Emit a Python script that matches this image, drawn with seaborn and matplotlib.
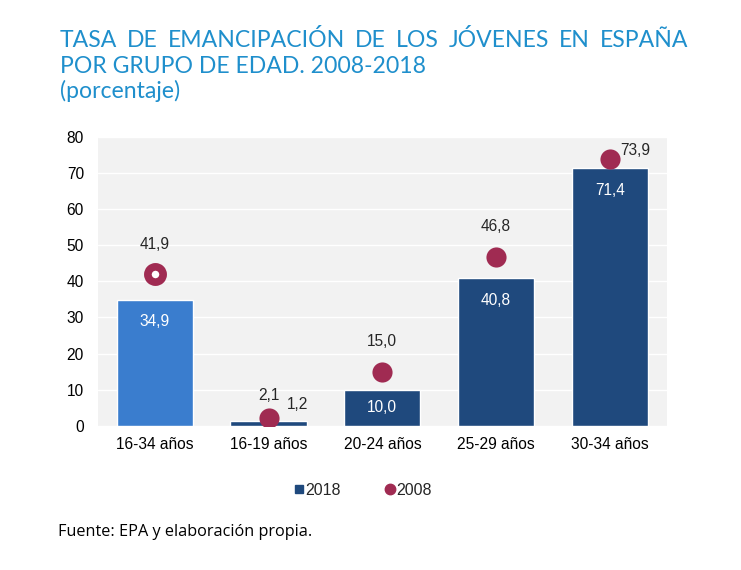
import matplotlib
matplotlib.use("Agg")
import matplotlib.pyplot as plt
from matplotlib.lines import Line2D
import seaborn as sns
import pandas as pd

categorias = ["16-34 años", "16-19 años", "20-24 años", "25-29 años", "30-34 años"]
tasa_2018 = [34.9, 1.2, 10.0, 40.8, 71.4]
tasa_2008 = [41.9, 2.1, 15.0, 46.8, 73.9]
yticks = [0, 10, 20, 30, 40, 50, 60, 70, 80]

titulo = ["TASA DE EMANCIPACIÓN DE LOS JÓVENES EN ESPAÑA",
          "POR GRUPO DE EDAD. 2008-2018",
          "(porcentaje)"]
fuente = "Fuente: EPA y elaboración propia."

azul_claro = "#3a7dce"
azul = "#1f497d"
granate = "#a02b52"
azul_titulo = "#1f8fcc"

df = pd.DataFrame({"grupo": categorias, "y2018": tasa_2018, "y2008": tasa_2008})

sns.set_theme(style="white")
plt.rcParams["font.family"] = ["Liberation Sans", "DejaVu Sans"]

fig = plt.figure(figsize=(7.41, 5.70), dpi=100)
ax = fig.add_axes([0.132, 0.253, 0.768, 0.507])
ax.set_facecolor("#f2f2f2")

colores = [azul_claro] + [azul] * (len(categorias) - 1)
sns.barplot(data=df, x="grupo", y="y2018", hue="grupo", palette=colores,
            legend=False, width=0.67, saturation=1, ax=ax, zorder=2)

# puntos 2008, el primero como anillo
sns.stripplot(data=df.iloc[1:], x="grupo", y="y2008", order=categorias,
              jitter=False, color=granate, size=14.5, linewidth=0,
              ax=ax, zorder=3)
sns.stripplot(data=df.iloc[:1], x="grupo", y="y2008", order=categorias,
              jitter=False, color="white", size=11, linewidth=5.5,
              edgecolor=granate, ax=ax, zorder=3)

ax.set_ylim(0, 80)
ax.set_xlim(-0.5, len(categorias) - 0.5)
ax.set_yticks(yticks)
ax.yaxis.grid(True, color="white", linewidth=1)
ax.set_axisbelow(True)
for s in ax.spines.values():
    s.set_visible(False)
ax.set_xlabel("")
ax.set_ylabel("")
ax.tick_params(axis="both", labelsize=11.2, length=0, colors="black")
ax.tick_params(axis="x", pad=8)
ax.tick_params(axis="y", pad=10)

fs = 11.2
for i, (v18, v08) in enumerate(zip(tasa_2018, tasa_2008)):
    t18 = f"{v18:.1f}".replace(".", ",")
    t08 = f"{v08:.1f}".replace(".", ",")
    if v18 < 5:
        ax.annotate(t18, (i, v18), xytext=(21, 12.5), textcoords="offset points",
                    ha="center", va="center", fontsize=fs)
    elif v18 < 15:
        ax.annotate(t18, (i, v18 / 2), ha="center", va="center",
                    fontsize=fs, color="white")
    else:
        ax.annotate(t18, (i, v18), xytext=(0, -16), textcoords="offset points",
                    ha="center", va="center", fontsize=fs, color="white")
    if v08 > 70:
        ax.annotate(t08, (i, v08), xytext=(18, 6), textcoords="offset points",
                    ha="center", va="center", fontsize=fs)
    elif v08 < 5:
        ax.annotate(t08, (i, v08), xytext=(0, 16), textcoords="offset points",
                    ha="center", va="center", fontsize=fs)
    else:
        ax.annotate(t08, (i, v08), xytext=(0, 21.5), textcoords="offset points",
                    ha="center", va="center", fontsize=fs)

handles = [Line2D([], [], marker="s", linestyle="none", color=azul, markersize=5.5),
           Line2D([], [], marker="o", linestyle="none", color=granate, markersize=7.5)]
fig.legend(handles, ["2018", "2008"], loc="center", bbox_to_anchor=(0.488, 0.14),
           ncol=2, frameon=False, fontsize=11.5, handletextpad=-0.1,
           columnspacing=2.6, handlelength=1.0)

# título, primera línea justificada
fig.canvas.draw()
renderer = fig.canvas.get_renderer()
x0, x1 = 60, 688
W, H = fig.bbox.width, fig.bbox.height
tkw = dict(fontsize=16.6, color=azul_titulo, family=["Lato", "DejaVu Sans"], va="baseline")
palabras = titulo[0].split()
textos = [fig.text(0, 1 - 47 / H, p, **tkw) for p in palabras]
anchos = [t.get_window_extent(renderer).width for t in textos]
hueco = (x1 - x0 - sum(anchos)) / (len(palabras) - 1)
x = x0
for t, a in zip(textos, anchos):
    t.set_x(x / W)
    x += a + hueco
fig.text(x0 / W, 1 - 73 / H, titulo[1], **tkw)
fig.text(x0 / W, 1 - 98 / H, titulo[2], **tkw)

fig.text(58 / W, 1 - 536 / H, fuente, fontsize=11.7, color="black",
         family=["Open Sans", "DejaVu Sans"])

fig.savefig("out.png", dpi=100)
